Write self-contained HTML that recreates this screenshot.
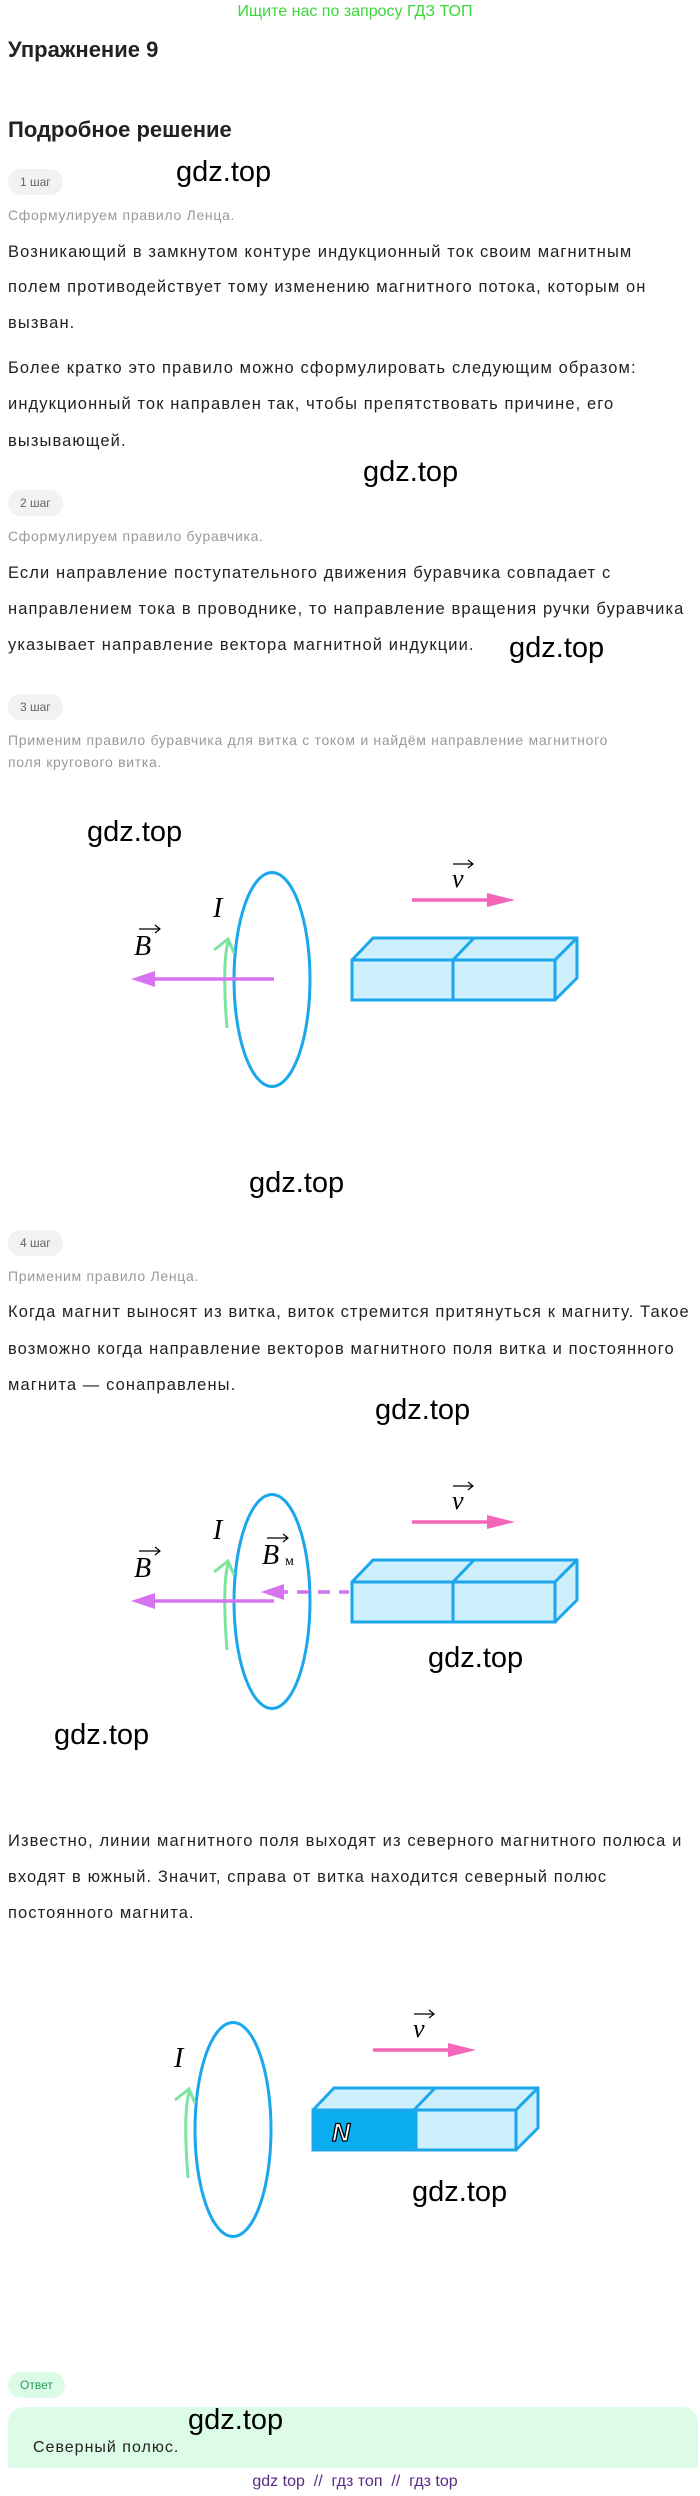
<!DOCTYPE html>
<html><head><meta charset="utf-8"><style>
body{margin:0;width:700px;height:2496px;position:relative;background:#fff;font-family:"Liberation Sans","DejaVu Sans",sans-serif;overflow:hidden}
.a{position:absolute;white-space:nowrap}
.t{position:absolute;left:8px;font-size:16.5px;letter-spacing:1.1px;color:#222;line-height:32px;white-space:nowrap}
.g{position:absolute;left:8px;font-size:14px;letter-spacing:0.7px;color:#999;line-height:20px;white-space:nowrap}
.pill{position:absolute;left:8px;height:26px;line-height:26px;padding:0 12px;border-radius:13px;background:#f2f2f2;font-size:12px;color:#666}
.w{position:absolute;font-size:29px;color:#000;white-space:nowrap;line-height:34px}
</style></head><body>
<div class="a" style="left:0;width:710px;text-align:center;top:3px;font-size:16px;color:#3ad83a;line-height:18px">Ищите нас по запросу ГДЗ ТОП</div>
<div class="a" style="left:8px;top:35px;font-size:22px;font-weight:bold;color:#222;line-height:30px">Упражнение 9</div>
<div class="a" style="left:8px;top:115px;font-size:22px;font-weight:bold;color:#222;line-height:30px">Подробное решение</div>

<div class="pill" style="top:169px">1 шаг</div>
<div class="w" style="left:176px;top:155px">gdz.top</div>
<div class="g" style="top:205px">Сформулируем правило Ленца.</div>
<div class="t" style="top:236px">Возникающий в замкнутом контуре индукционный ток своим магнитным</div>
<div class="t" style="top:271px">полем противодействует тому изменению магнитного потока, которым он</div>
<div class="t" style="top:307px">вызван.</div>
<div class="t" style="top:352px">Более кратко это правило можно сформулировать следующим образом:</div>
<div class="t" style="top:388px">индукционный ток направлен так, чтобы препятствовать причине, его</div>
<div class="t" style="top:425px">вызывающей.</div>
<div class="w" style="left:363px;top:455px">gdz.top</div>

<div class="pill" style="top:490px">2 шаг</div>
<div class="g" style="top:526px">Сформулируем правило буравчика.</div>
<div class="t" style="top:557px">Если направление поступательного движения буравчика совпадает с</div>
<div class="t" style="top:593px">направлением тока в проводнике, то направление вращения ручки буравчика</div>
<div class="t" style="top:629px">указывает направление вектора магнитной индукции.</div>
<div class="w" style="left:509px;top:631px">gdz.top</div>

<div class="pill" style="top:694px">3 шаг</div>
<div class="g" style="top:730px">Применим правило буравчика для витка с током и найдём направление магнитного</div>
<div class="g" style="top:752px">поля кругового витка.</div>
<div class="w" style="left:87px;top:815px">gdz.top</div>
<div class="w" style="left:249px;top:1166px">gdz.top</div>

<div class="pill" style="top:1230px">4 шаг</div>
<div class="g" style="top:1266px">Применим правило Ленца.</div>
<div class="t" style="top:1296px">Когда магнит выносят из витка, виток стремится притянуться к магниту. Такое</div>
<div class="t" style="top:1333px">возможно когда направление векторов магнитного поля витка и постоянного</div>
<div class="t" style="top:1369px">магнита — сонаправлены.</div>
<div class="w" style="left:375px;top:1393px">gdz.top</div>
<div class="w" style="left:428px;top:1641px">gdz.top</div>
<div class="w" style="left:54px;top:1718px">gdz.top</div>

<div class="t" style="top:1825px">Известно, линии магнитного поля выходят из северного магнитного полюса и</div>
<div class="t" style="top:1861px">входят в южный. Значит, справа от витка находится северный полюс</div>
<div class="t" style="top:1897px">постоянного магнита.</div>
<div class="w" style="left:412px;top:2175px">gdz.top</div>

<div class="pill" style="top:2372px;background:#dcfce7;color:#2a9a55">Ответ</div>
<div class="a" style="left:8px;top:2407px;width:690px;height:61px;background:#dcfce7;border-radius:16px 16px 0 0"></div>
<div class="a" style="left:33px;top:2438px;font-size:16px;letter-spacing:1px;color:#222;line-height:20px">Северный полюс.</div>
<div class="w" style="left:188px;top:2403px">gdz.top</div>
<div class="a" style="left:0;width:710px;text-align:center;top:2473px;font-size:16px;color:#5b2a86;line-height:18px">gdz top &nbsp;// &nbsp;гдз топ &nbsp;// &nbsp;гдз top</div>

<svg class="a" style="left:0;top:0" width="700" height="2496" viewBox="0 0 700 2496">
<defs>
<g id="mag">
<path d="M352,960 L373,938 L577,938 L555,960 Z" fill="#cdeefb" stroke="#1aa7ec" stroke-width="3" stroke-linejoin="round"/>
<path d="M555,960 L577,938 L577,978 L555,1000 Z" fill="#cdeefb" stroke="#1aa7ec" stroke-width="3" stroke-linejoin="round"/>
<rect x="352" y="960" width="203" height="40" fill="#cdeefb" stroke="#1aa7ec" stroke-width="3"/>
<path d="M453,960 L453,1000 M453,960 L474,938" stroke="#1aa7ec" stroke-width="3"/>
</g>
<g id="common">
<ellipse cx="272" cy="979.5" rx="38" ry="107" fill="none" stroke="#1aa7ec" stroke-width="3"/>
<path d="M412,900 L500,900" stroke="#f366b8" stroke-width="3.5"/>
<path d="M487,893 L515,900 L487,907 Z" fill="#f366b8"/>
<path d="M227,1028 Q222,965 228,942" stroke="#7de3a0" stroke-width="3" fill="none"/>
<path d="M214,950 L228,939 L234,953" stroke="#7de3a0" stroke-width="3" fill="none"/>
<text x="213" y="917" font-family="Liberation Serif,serif" font-style="italic" font-size="28">I</text>
<text x="452" y="887" font-family="Liberation Serif,serif" font-style="italic" font-size="26">v</text>
<path d="M453,864 L473,864 M468,860 L473,864 L468,868" stroke="#000" stroke-width="1.2" fill="none"/>
</g>
<g id="bvec">
<path d="M145,979 L274,979" stroke="#d773f0" stroke-width="3.5"/>
<path d="M131,979 L155,971 L155,987 Z" fill="#d773f0"/>
<text x="134" y="955" font-family="Liberation Serif,serif" font-style="italic" font-size="28">B</text>
<path d="M139,929 L160,929 M155,925 L160,929 L155,933" stroke="#000" stroke-width="1.2" fill="none"/>
</g>
</defs>
<use href="#common"/><use href="#bvec"/><use href="#mag"/>
<g transform="translate(0,622)">
<use href="#common"/><use href="#bvec"/><use href="#mag"/>
<path d="M276,970 L349,970" stroke="#d773f0" stroke-width="3.5" stroke-dasharray="12,9"/>
<path d="M261,970 L284,962 L284,978 Z" fill="#d773f0"/>
<text x="262" y="942" font-family="Liberation Serif,serif" font-style="italic" font-size="28">B</text>
<text x="285" y="943" font-family="Liberation Serif,serif" font-size="14">м</text>
<path d="M267,916 L288,916 M283,912 L288,916 L283,920" stroke="#000" stroke-width="1.2" fill="none"/>
</g>
<g transform="translate(-39,1150)">
<use href="#common"/><use href="#mag"/>
<rect x="352" y="960" width="103" height="40" fill="#0aaef0" stroke="#1aa7ec" stroke-width="3"/>
<text x="371" y="991" font-family="Liberation Sans,sans-serif" font-weight="bold" font-style="italic" font-size="25" fill="#fff" stroke="#000" stroke-width="1.3">N</text>
</g>
</svg>
</body></html>
